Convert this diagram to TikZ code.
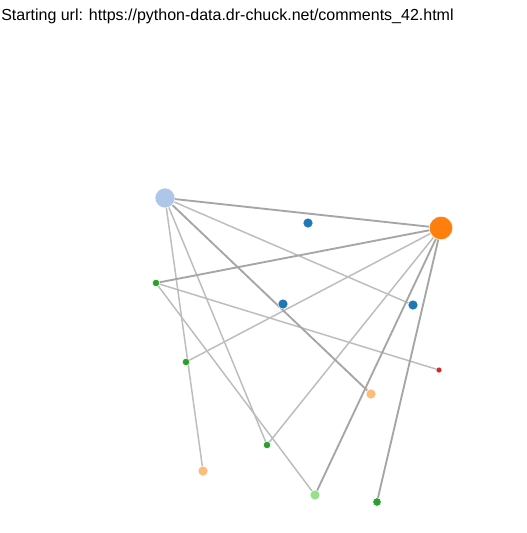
\documentclass[tikz,border=0pt]{standalone}
\usepackage{fontspec}
\setmainfont{Liberation Sans}
\usetikzlibrary{backgrounds}
\definecolor{cLB}{HTML}{AEC7E8}
\definecolor{cOR}{HTML}{FF7F0E}
\definecolor{cBL}{HTML}{1F77B4}
\definecolor{cGR}{HTML}{2CA02C}
\definecolor{cRD}{HTML}{D62728}
\definecolor{cLO}{HTML}{FFBB78}
\definecolor{cLG}{HTML}{98DF8A}
\definecolor{edgeDark}{HTML}{A6A6A6}
\definecolor{edgeLight}{HTML}{BDBDBD}
\tikzset{
  dot/.style={circle, inner sep=0pt, draw=white, line width=0.4pt},
  edgeA/.style={draw=edgeDark, line width=1.4pt},
  edgeB/.style={draw=edgeLight, line width=1.1pt},
}
\begin{document}
\begin{tikzpicture}[x=0.75pt, y=-0.75pt]
\useasboundingbox (0,0) rectangle (526,533);
\node[anchor=base west, inner sep=0pt, font=\fontsize{12pt}{14pt}\selectfont] (title) at (1,20) {Starting url: https://python-data.dr-chuck.net/comments\_42.html};
% nodes
\node[dot, fill=cLB, minimum size=15pt] (A) at (165,198) {};
\node[dot, fill=cOR, minimum size=17.6pt] (B) at (441,228) {};
\node[dot, fill=cBL, minimum size=7.5pt] (C) at (308,223) {};
\node[dot, fill=cGR, minimum size=5.6pt] (D) at (156,283) {};
\node[dot, fill=cBL, minimum size=7.5pt] (E) at (283,304) {};
\node[dot, fill=cBL, minimum size=7.5pt] (F) at (413,305) {};
\node[dot, fill=cGR, minimum size=5.6pt] (G) at (186,362) {};
\node[dot, fill=cRD, minimum size=4.5pt] (H) at (439,370) {};
\node[dot, fill=cLO, minimum size=7.5pt] (I) at (371,394) {};
\node[dot, fill=cGR, minimum size=5.6pt] (J) at (267,445) {};
\node[dot, fill=cLO, minimum size=7.5pt] (K) at (203,471) {};
\node[dot, fill=cLG, minimum size=7.5pt] (L) at (315,495) {};
\node[dot, fill=cGR, minimum size=6.4pt] (M) at (377,502) {};
% edges
\begin{scope}[on background layer]
\fill[white] (0,0) rectangle (526,533);
\draw[edgeB] (A.center) -- (F.center);
\draw[edgeB] (A.center) -- (K.center);
\draw[edgeB] (A.center) -- (J.center);
\draw[edgeB] (G.center) -- (B.center);
\draw[edgeB] (D.center) -- (H.center);
\draw[edgeB] (D.center) -- (L.center);
\draw[edgeB] (B.center) -- (J.center);
\draw[edgeA] (A.center) -- (B.center);
\draw[edgeA] (A.center) -- (I.center);
\draw[edgeA] (D.center) -- (B.center);
\draw[edgeA] (B.center) -- (L.center);
\draw[edgeA] (B.center) -- (M.center);
\end{scope}
\end{tikzpicture}
\end{document}
